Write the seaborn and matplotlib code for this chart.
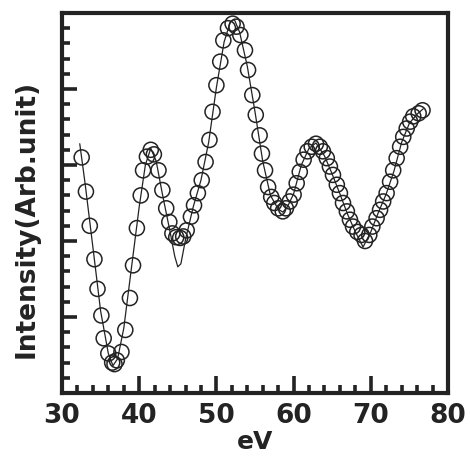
import matplotlib
matplotlib.use("Agg")
import matplotlib.pyplot as plt
import seaborn as sns
import pandas as pd
from matplotlib.ticker import MultipleLocator, FixedLocator, FixedFormatter

# measured data (circles)
data_ev = [32.55, 33.1, 33.6, 34.2, 34.6, 35.1, 35.4, 36.0, 36.5, 36.8, 37.1, 37.7,
           38.2, 38.8, 39.2, 39.7, 40.2, 40.5, 41.0, 41.5, 41.9, 42.5, 43.0, 43.5,
           43.9, 44.3, 44.8, 45.3, 45.7, 46.15, 46.7, 47.1, 47.6, 48.1, 48.6, 49.1,
           49.5, 50.0, 50.5, 50.9, 51.5, 52.1, 52.6, 53.1, 53.7, 54.1, 54.65, 55.1,
           55.6, 55.9, 56.3, 56.7, 57.1, 57.5, 58.0, 58.6, 59.0, 59.5, 60.0, 60.4,
           60.8, 61.3, 61.8, 62.35, 62.9, 63.4, 63.8, 64.3, 64.7, 65.1, 65.6, 66.0,
           66.4, 66.9, 67.3, 67.7, 68.25, 68.8, 69.25, 69.8, 70.2, 70.75, 71.2, 71.6,
           72.05, 72.5, 72.9, 73.35, 73.8, 74.2, 74.65, 75.1, 75.5, 76.2, 76.7]
data_int = [3.10, 2.65, 2.20, 1.76, 1.37, 1.02, 0.72, 0.52, 0.40, 0.38, 0.43, 0.54,
            0.83, 1.25, 1.68, 2.17, 2.60, 2.93, 3.11, 3.20, 3.14, 2.93, 2.67, 2.43,
            2.25, 2.10, 2.05, 2.04, 2.06, 2.14, 2.32, 2.47, 2.63, 2.80, 3.04, 3.33,
            3.70, 4.05, 4.36, 4.64, 4.80, 4.86, 4.82, 4.71, 4.51, 4.25, 3.92, 3.66,
            3.39, 3.15, 2.93, 2.71, 2.58, 2.50, 2.43, 2.39, 2.43, 2.52, 2.61, 2.76,
            2.91, 3.07, 3.18, 3.24, 3.28, 3.24, 3.18, 3.09, 2.98, 2.87, 2.74, 2.63,
            2.50, 2.39, 2.28, 2.19, 2.12, 2.08, 2.00, 2.08, 2.19, 2.30, 2.41, 2.52,
            2.63, 2.78, 2.93, 3.09, 3.24, 3.37, 3.48, 3.57, 3.64, 3.68, 3.72]

# fitted curve (thin line)
fit_ev = [32.3, 33.0, 34.0, 35.0, 36.0, 36.6, 37.2, 38.0, 39.0, 40.0, 40.8, 41.5,
          42.2, 43.0, 44.0, 44.6, 45.0, 45.4, 46.0, 47.0, 48.0, 49.0, 50.0, 51.0,
          51.8, 52.3, 53.0, 54.0, 55.0, 56.0, 57.0, 58.0, 58.6, 59.2, 60.0, 61.0,
          62.0, 62.9, 64.0, 65.0, 66.0, 67.0, 68.0, 69.0, 70.0, 71.0, 72.0, 73.0,
          74.0, 75.0, 76.0, 76.8]
fit_int = [3.28, 2.75, 1.92, 1.08, 0.52, 0.36, 0.45, 0.85, 1.65, 2.45, 3.00, 3.22,
           3.05, 2.62, 2.12, 1.80, 1.66, 1.70, 2.02, 2.45, 2.80, 3.30, 4.02, 4.62,
           4.88, 4.92, 4.75, 4.30, 3.70, 3.05, 2.60, 2.42, 2.38, 2.45, 2.62, 3.00,
           3.22, 3.29, 3.12, 2.88, 2.62, 2.35, 2.12, 1.92, 2.12, 2.38, 2.62, 2.92,
           3.30, 3.55, 3.67, 3.74]

x_ticks = [30, 40, 50, 60, 70, 80]
x_tick_labels = ["30", "40", "50", "60", "70", "80"]

df_data = pd.DataFrame({"eV": data_ev, "I": data_int})
df_fit = pd.DataFrame({"eV": fit_ev, "I": fit_int})

sns.set_style("ticks")
plt.rcParams["font.family"] = ["DejaVu Sans"]
ink = "#232323"

fig = plt.figure(figsize=(4.70, 4.58), dpi=100)
ax = fig.add_axes([62 / 470, 65 / 458, 386 / 470, 380 / 458])

sns.lineplot(data=df_fit, x="eV", y="I", ax=ax, color=ink, linewidth=0.9,
             sort=False, zorder=2)
sns.scatterplot(data=df_data, x="eV", y="I", ax=ax, marker="o", s=118,
                facecolors="none", edgecolor=ink, linewidth=1.1, zorder=3)

ax.set_xlim(30, 80)
ax.set_ylim(0, 5)

ax.xaxis.set_major_locator(FixedLocator(x_ticks))
ax.xaxis.set_major_formatter(FixedFormatter(x_tick_labels))
ax.xaxis.set_minor_locator(MultipleLocator(2))
ax.yaxis.set_major_locator(MultipleLocator(1))
ax.yaxis.set_minor_locator(MultipleLocator(0.2))
ax.set_yticklabels([])

ax.tick_params(axis="both", which="both", direction="in", color=ink,
               top=False, right=False)
ax.tick_params(axis="x", which="major", length=12, width=2.6, pad=7,
               labelsize=19, labelcolor=ink)
ax.tick_params(axis="x", which="minor", length=6, width=2.6)
ax.tick_params(axis="y", which="major", length=11, width=2.6)
ax.tick_params(axis="y", which="minor", length=5.5, width=2.6)
for lab in ax.get_xticklabels():
    lab.set_fontweight("bold")

for sp in ax.spines.values():
    sp.set_linewidth(3.0)
    sp.set_color(ink)
    sp.set_visible(True)

ax.set_xlabel("eV", fontsize=18, fontweight="bold", color=ink, labelpad=1)
ax.set_ylabel("Intensity(Arb.unit)", fontsize=19, fontweight="bold", color=ink)
ax.yaxis.set_label_coords(-0.057, 0.457)

fig.savefig("out.png", dpi=100)
